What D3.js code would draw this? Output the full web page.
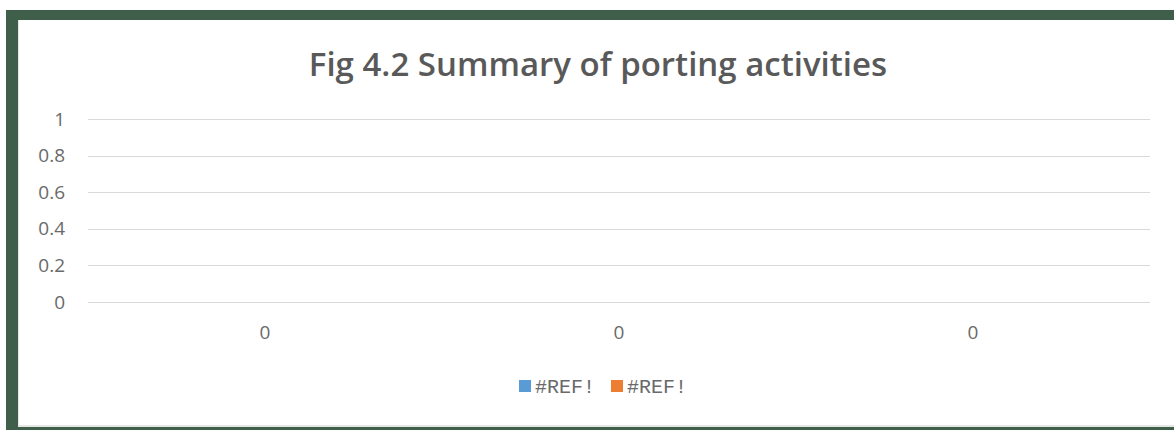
<!DOCTYPE html>
<html><head><meta charset="utf-8">
<script src="https://cdn.jsdelivr.net/npm/d3@7"></script>
<style>body{margin:0;background:#fff;}svg{display:block;}</style>
</head><body>
<svg id="c" width="1174" height="430"></svg>
<script>
const categories = ["0", "0", "0"];
const seriesNames = ["#REF!", "#REF!"];
const series1 = [0, 0, 0];
const series2 = [0, 0, 0];
const yTicks = [0, 0.2, 0.4, 0.6, 0.8, 1];
const colors = ["#5B9BD5", "#ED7D31"];
const title = "Fig 4.2 Summary of porting activities";

const svg = d3.select("#c");
// frame
svg.append("rect").attr("x", 6).attr("y", 10).attr("width", 1168).attr("height", 420).attr("fill", "#3F5F4A");
svg.append("rect").attr("x", 18).attr("y", 20).attr("width", 1156).attr("height", 407).attr("fill", "#e6e6e6");
svg.append("rect").attr("x", 19).attr("y", 20).attr("width", 1155).attr("height", 405).attr("fill", "#ffffff");

const m = {l: 88, r: 1150, t: 119, b: 302};
const x = d3.scaleBand().domain(d3.range(categories.length)).range([m.l, m.r]).paddingInner(0.5).paddingOuter(0.25);
const y = d3.scaleLinear().domain([0, 1]).range([m.b, m.t]);
const font = "'Open Sans', 'Noto Sans', sans-serif";

// gridlines
svg.append("g").selectAll("line").data(yTicks).join("line")
  .attr("x1", m.l).attr("x2", m.r)
  .attr("y1", d => Math.round(y(d)) + 0.5).attr("y2", d => Math.round(y(d)) + 0.5)
  .attr("stroke", "#d9d9d9").attr("stroke-width", 1);

// y axis labels
const yAxis = svg.append("g").attr("transform", `translate(${m.l},0)`)
  .call(d3.axisLeft(y).tickValues(yTicks).tickSize(0).tickPadding(23).tickFormat(d => d3.format("~g")(d)));
yAxis.select(".domain").remove();
yAxis.selectAll("text").attr("fill", "#6a6a6a").style("font-family", font).style("font-size", "19px");

// x axis labels
const xAxis = svg.append("g").attr("transform", `translate(0,${m.b})`)
  .call(d3.axisBottom(x).tickSize(0).tickPadding(24).tickFormat(i => categories[i]));
xAxis.select(".domain").remove();
xAxis.selectAll("text").attr("fill", "#6a6a6a").style("font-family", font).style("font-size", "19px");

// bars (all zero)
const sub = d3.scaleBand().domain([0, 1]).range([0, x.bandwidth()]);
[series1, series2].forEach((s, si) => {
  svg.append("g").selectAll("rect").data(s).join("rect")
    .attr("x", (d, i) => x(i) + sub(si)).attr("width", sub.bandwidth())
    .attr("y", d => y(d)).attr("height", d => y(0) - y(d)).attr("fill", colors[si]);
});

// title
svg.append("text").attr("x", 598).attr("y", 76).attr("text-anchor", "middle")
  .attr("fill", "#595959").style("font-family", font).style("font-size", "33px").style("font-weight", 600)
  .text(title);

// legend
const legendX = [519, 611];
seriesNames.forEach((n, i) => {
  const g = svg.append("g").attr("transform", `translate(${legendX[i]},380)`);
  g.append("rect").attr("width", 12).attr("height", 12).attr("fill", colors[i]);
  g.append("text").attr("x", 16).attr("y", 13).attr("fill", "#6a6a6a")
    .style("font-family", "'Liberation Mono', 'DejaVu Sans Mono', monospace").style("font-size", "20px").text(n);
});
</script>
</body></html>
